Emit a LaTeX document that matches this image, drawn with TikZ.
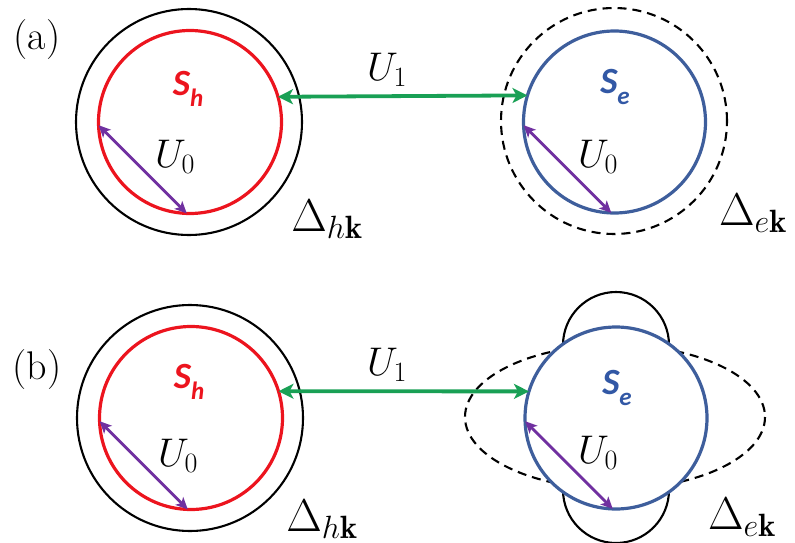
\RequirePackage{fix-cm}
\documentclass[tikz,border=0pt]{standalone}
\usepackage{fontspec}
\newfontfamily\calib{Carlito}
\usetikzlibrary{arrows.meta}
\definecolor{myred}{RGB}{236,20,30}
\definecolor{myblue}{RGB}{62,94,156}
\definecolor{txtblue}{RGB}{50,88,165}
\definecolor{mygreen}{RGB}{25,160,85}
\definecolor{mypurple}{RGB}{112,48,160}
\begin{document}
\begin{tikzpicture}[x=1pt,y=-1pt,
  ring/.style={circle,inner sep=0pt,outer sep=0pt},
  outerring/.style={ring,draw=black,line width=2.1pt,minimum size=226pt},
  gapring/.style={ring,draw=black,line width=2.1pt,dash pattern=on 9pt off 6pt,minimum size=226pt},
  redring/.style={ring,draw=myred,line width=3.2pt,minimum size=183pt},
  bluering/.style={ring,draw=myblue,line width=3.2pt,minimum size=182pt},
  garrow/.style={draw=mygreen,line width=3.8pt,{Stealth[length=15pt,width=15pt,inset=4pt]}-{Stealth[length=15pt,width=15pt,inset=4pt]}},
  parrow/.style={draw=mypurple,line width=2.9pt,{Stealth[length=12pt,width=11pt,inset=3pt]}-{Stealth[length=12pt,width=11pt,inset=3pt]}},
  lbl/.style={inner sep=0pt,font=\fontsize{40}{44}\selectfont},
  ulbl/.style={inner sep=0pt,font=\fontsize{40}{44}\selectfont},
  dlbl/.style={inner sep=0pt,font=\fontsize{46}{50}\selectfont},
  slbl/.style={inner sep=0pt,font=\calib\bfseries\itshape\fontsize{37}{40}\selectfont},
  dashline/.style={draw=black,line width=2.1pt,dash pattern=on 9pt off 6pt},
  lobe/.style={draw=black,line width=2.1pt}]
\useasboundingbox (0,0) rectangle (795,543);

% ---------- panel (a) ----------
\node[lbl] (la) at (37,40) {(a)};
\node[outerring] (Oh1) at (189,122) {};
\node[redring] (Rh1) at (190,122) {};
\node[gapring] (Oe1) at (614,121) {};
\node[bluering] (Be1) at (614.5,122) {};
\node[slbl,text=myred] (Sh1) at (188,89) {S\raisebox{-0.28em}{\fontsize{25}{27}\selectfont h}};
\node[slbl,text=txtblue] (Se1) at (615,87) {S\raisebox{-0.28em}{\fontsize{25}{27}\selectfont e}};
\draw[garrow] (Rh1.16.5) -- (Be1.163.5);
\node[ulbl] (U1a) at (387,70) {$U_1$};
\draw[parrow] (Rh1.182) -- (Rh1.268);
\draw[parrow] (Be1.182) -- (Be1.268);
\node[ulbl] (U0a) at (175,157) {$U_0$};
\node[ulbl] (U0b) at (598,157) {$U_0$};
\node[dlbl] (Dh1) at (327,219) {$\Delta_{h\mathbf{k}}$};
\node[dlbl] (De1) at (753,213) {$\Delta_{e\mathbf{k}}$};

% ---------- panel (b) ----------
\node[lbl] (lb) at (37,370) {(b)};
\node[outerring] (Oh2) at (190,418) {};
\node[redring] (Rh2) at (191,418) {};
\draw[dashline] (615,417) ellipse [x radius=150, y radius=72];
\draw[lobe] (616,345) circle [radius=53];
\draw[lobe] (616,490) circle [radius=53];
\node[bluering,fill=white] (Be2) at (616,418) {};
\node[slbl,text=myred] (Sh2) at (189,382) {S\raisebox{-0.28em}{\fontsize{25}{27}\selectfont h}};
\node[slbl,text=txtblue] (Se2) at (617,388) {S\raisebox{-0.28em}{\fontsize{25}{27}\selectfont e}};
\draw[garrow] (Rh2.17) -- (Be2.163);
\node[ulbl] (U1b) at (387,365) {$U_1$};
\draw[parrow] (Rh2.182) -- (Rh2.268);
\draw[parrow] (Be2.182) -- (Be2.268);
\node[ulbl] (U0c) at (178,456) {$U_0$};
\node[ulbl] (U0d) at (598,453) {$U_0$};
\node[dlbl] (Dh2) at (322,519) {$\Delta_{h\mathbf{k}}$};
\node[dlbl] (De2) at (742,517) {$\Delta_{e\mathbf{k}}$};
\end{tikzpicture}
\end{document}
